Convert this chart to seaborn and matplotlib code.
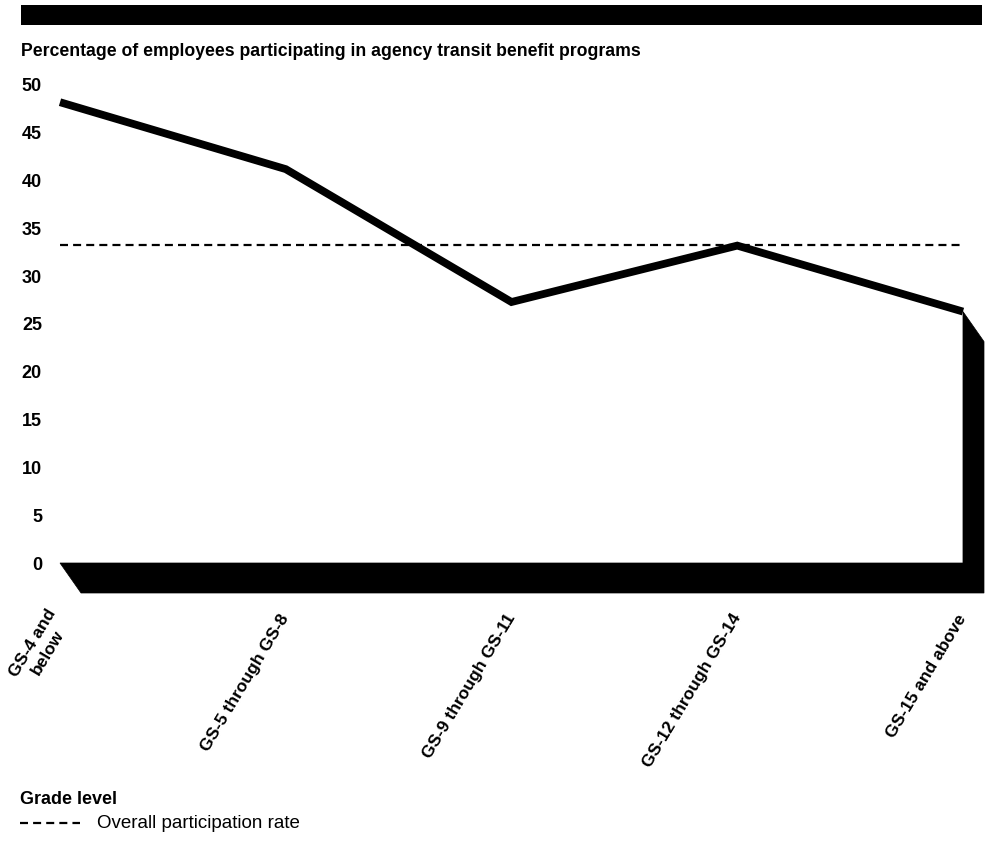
import matplotlib
matplotlib.use("Agg")
import matplotlib.pyplot as plt
from matplotlib.patches import Rectangle, Polygon
import seaborn as sns
import pandas as pd

sns.set_theme(style="white")
plt.rcParams["font.family"] = ["Liberation Sans", "DejaVu Sans"]
plt.rcParams["text.color"] = "black"
plt.rcParams["xtick.color"] = "black"
plt.rcParams["ytick.color"] = "black"

# Participation by grade level (percent)
grades = ["GS-4 and\nbelow", "GS-5 through GS-8", "GS-9 through GS-11",
          "GS-12 through GS-14", "GS-15 and above"]
participation = [48.2, 41.2, 27.3, 33.2, 26.3]
overall_rate = 33.3
y_ticks = [0, 5, 10, 15, 20, 25, 30, 35, 40, 45, 50]

df = pd.DataFrame({"pos": range(len(grades)), "pct": participation})

W, H = 989, 858
fig = plt.figure(figsize=(W / 100, H / 100), dpi=100)

# axes in pixel terms: category 0 at x=60, last category at x=962; y=0 at 563, 50 at 85
left_px, right_px = 60, 984
top_px, bottom_px = 85, 593
ax = fig.add_axes([left_px / W, 1 - bottom_px / H,
                   (right_px - left_px) / W, (bottom_px - top_px) / H])
px_per_x = (962 - 60) / (len(grades) - 1)
px_per_y = (563 - 85) / 50
depth_x = 21 / px_per_x
depth_y = 30 / px_per_y
ax.set_xlim(0, len(grades) - 1 + depth_x)
ax.set_ylim(-depth_y, 50)

# 3-D style floor and right wall beneath the line
n_last = len(grades) - 1
last = participation[-1]
base = Polygon([(0, 0), (n_last, 0), (n_last, last),
                (n_last + depth_x, last - depth_y),
                (n_last + depth_x, -depth_y), (depth_x, -depth_y)],
               closed=True, facecolor="black", edgecolor="black", lw=0.5,
               clip_on=False, zorder=2)
ax.add_patch(base)

# overall participation reference line
ax.plot([0, n_last], [overall_rate, overall_rate], color="black", lw=1.6,
        dashes=(3.6, 2.3), clip_on=False, zorder=3)

sns.lineplot(data=df, x="pos", y="pct", ax=ax, color="black", lw=5.6,
             solid_joinstyle="miter", solid_capstyle="butt",
             clip_on=False, zorder=4)

for s in ax.spines.values():
    s.set_visible(False)
ax.set_xlabel("")
ax.set_ylabel("")
ax.set_yticks(y_ticks)
ax.set_yticklabels([str(v) for v in y_ticks], fontsize=13, fontweight="bold")
ax.tick_params(axis="y", length=0, pad=13)
ax.set_xticks(range(len(grades)))
ax.set_xticklabels(grades, fontsize=12.5, fontweight="bold", rotation=59,
                   ha="right", va="center", rotation_mode="anchor",
                   multialignment="center")
ax.tick_params(axis="x", length=0, pad=16)
ax.grid(False)

# banner bar across the top
fig.patches.append(Rectangle((21 / W, 1 - 25 / H), (982 - 21) / W, 20 / H,
                             transform=fig.transFigure, facecolor="black",
                             edgecolor="none"))

fig.text(21 / W, 1 - 52 / H,
         "Percentage of employees participating in agency transit benefit programs",
         fontsize=12.7, fontweight="bold", va="center", ha="left")
fig.text(20 / W, 1 - 800 / H, "Grade level", fontsize=13, fontweight="bold",
         va="center", ha="left")

# legend entry for the dashed line
fig.add_artist(plt.Line2D([20 / W, 80 / W], [1 - 823 / H, 1 - 823 / H],
                          transform=fig.transFigure, color="black", lw=1.6,
                          dashes=(3.6, 2.3)))
fig.text(97 / W, 1 - 824 / H, "Overall participation rate", fontsize=13.5,
         va="center", ha="left")

fig.savefig("out.png", dpi=100, facecolor="white")
